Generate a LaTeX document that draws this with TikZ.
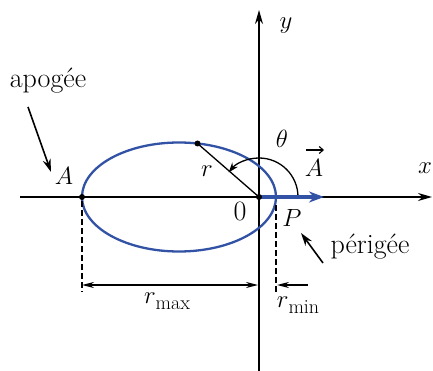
\documentclass[tikz,border=0pt]{standalone}
\usetikzlibrary{arrows.meta,calc}
\definecolor{orbit}{RGB}{50,82,165}
\begin{document}
\begin{tikzpicture}[x=1pt,y=-1pt,
  lbl/.style={font=\fontsize{28}{32}\selectfont, inner sep=0pt},
  axis/.style={line width=1.7pt,-{Stealth[length=14pt,width=8pt]}},
  ptr/.style={line width=1.6pt,-{Stealth[length=13pt,width=8pt]}},
  dimboth/.style={line width=1.4pt,{Stealth[length=12pt,width=6pt]}-{Stealth[length=12pt,width=6pt]}},
  dimone/.style={line width=1.4pt,-{Stealth[length=12pt,width=6pt]}},
  dashline/.style={line width=1.3pt,dash pattern=on 6pt off 3pt},
  dot/.style={circle,fill=black,inner sep=0pt,minimum size=6pt}]
\useasboundingbox (0,0) rectangle (433,371);
% coordinates
\coordinate (O) at (259,197);
\coordinate (xs) at (20,197);
\coordinate (xe) at (432,197);
\coordinate (ys) at (259,371);
\coordinate (ye) at (259,10);
\coordinate (Apt) at (82,197);
\coordinate (M) at ({179+97*cos(79)},{197-54.5*sin(79)});
% axes
\draw[axis] (xs) -- (xe);
\draw[axis] (ys) -- (ye);
% ellipse
\draw[orbit,line width=2.3pt] (179,197) ellipse [x radius=97,y radius=54.5];
% radius line
\draw[line width=1.3pt] (M) -- (O);
% theta arc
\draw[line width=1.3pt,-{Stealth[length=10pt,width=7pt]}] ($(O)+(39,0)$) arc[start angle=0,end angle=-141,radius=39];
% blue vector
\coordinate (Ve) at (324,197);
\draw[orbit,line width=3.2pt,-{Stealth[length=15pt,width=11pt]}] (O) -- (Ve);
% dots
\node[dot] (dA) at (Apt) {};
\node[dot] (dM) at (M) {};
\node[dot] (dO) at (O) {};
% labels
\node[lbl] (xl) at (425,168) {$x$};
\node[lbl] (yl) at (286,26) {$y$};
\node[lbl] (Al) at (64,176) {$A$};
\node[lbl] (rl) at (207,171) {$r$};
\node[lbl] (th) at (282,139) {$\theta$};
\node[lbl] (vA) at (314,168) {$A$};
\draw[line width=1.1pt,-{Straight Barb[length=4pt,width=7pt]}] (306,150) -- (324,150);
\node[lbl] (zl) at (240,211) {0};
\node[lbl] (Pl) at (292,218) {$P$};
\node[lbl] (apo) at (48,81) {apogée};
\node[lbl] (peri) at (370,247) {périgée};
\coordinate (apoS) at (28,107);
\coordinate (apoE) at (51,172);
\draw[ptr] (apoS) -- (apoE);
\coordinate (periS) at (323,263);
\coordinate (periE) at (301,233);
\draw[ptr] (periS) -- (periE);
% dashed lines
\coordinate (d1a) at (82,201);
\coordinate (d1b) at (82,292);
\coordinate (d2a) at (276,205);
\coordinate (d2b) at (276,292);
\draw[dashline] (d1a) -- (d1b);
\draw[dashline] (d2a) -- (d2b);
% dimension arrows
\coordinate (rm1) at (82,285);
\coordinate (rm2) at (258,285);
\draw[dimboth] (rm1) -- (rm2);
\coordinate (rn1) at (308,285);
\coordinate (rn2) at (277,285);
\draw[dimone] (rn1) -- (rn2);
\node[lbl] (rmax) at (167,301) {$r$\raisebox{-6pt}{\fontsize{20}{24}\selectfont max}};
\node[lbl] (rmin) at (298,305) {$r$\raisebox{-6pt}{\fontsize{20}{24}\selectfont min}};
\end{tikzpicture}
\end{document}
